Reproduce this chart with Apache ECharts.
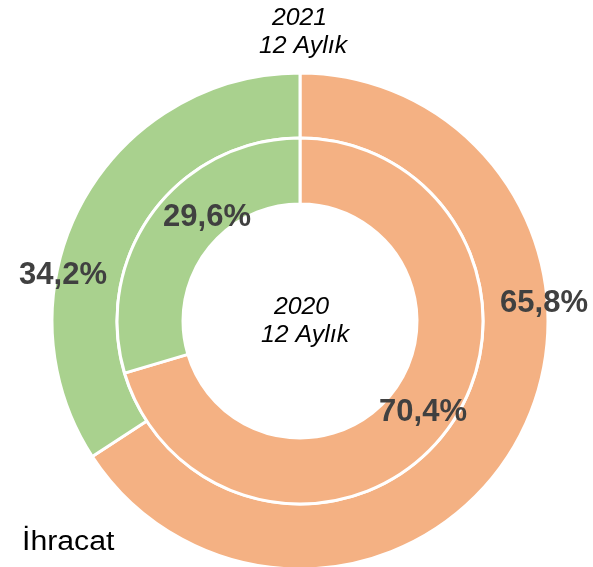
<!DOCTYPE html>
<html>
<head>
<meta charset="utf-8">
<script src="https://cdn.jsdelivr.net/npm/echarts@6/dist/echarts.min.js"></script>
<style>
  html, body { margin: 0; padding: 0; background: #fff; }
  #main { width: 593px; height: 567px; }
</style>
</head>
<body>
<div id="main"></div>
<script>
  // dilimler: turuncu, yesil
  var categories = ['Turuncu', 'Yeşil'];
  var values2021 = [65.8, 34.2];
  var values2020 = [70.4, 29.6];
  var colors = ['#F4B183', '#A9D18E'];

  var fmt = function (v) { return v.toFixed(1).replace('.', ',') + '%'; };

  var chart = echarts.init(document.getElementById('main'));

  var pctStyle = { fill: '#404040', font: 'bold 31px "Liberation Sans", Arial, sans-serif', align: 'center', verticalAlign: 'middle' };
  var capStyle = { fill: '#000', font: 'italic 23px "Liberation Sans", Arial, sans-serif', align: 'center', verticalAlign: 'middle', lineHeight: 28 };

  function pctText(x, y, v) {
    return { type: 'text', x: x, y: y, z: 10, style: Object.assign({ text: fmt(v) }, pctStyle) };
  }

  chart.setOption({
    animation: false,
    color: colors,
    series: [
      {
        name: '2021 12 Aylık',
        type: 'pie',
        center: [300, 321],
        radius: [183, 248],
        startAngle: 90,
        clockwise: true,
        label: { show: false },
        labelLine: { show: false },
        itemStyle: { borderColor: '#fff', borderWidth: 3 },
        data: categories.map(function (c, i) { return { name: c, value: values2021[i] }; })
      },
      {
        name: '2020 12 Aylık',
        type: 'pie',
        center: [300, 321],
        radius: [117, 183],
        startAngle: 90,
        clockwise: true,
        label: { show: false },
        labelLine: { show: false },
        itemStyle: { borderColor: '#fff', borderWidth: 3 },
        data: categories.map(function (c, i) { return { name: c, value: values2020[i] }; })
      }
    ],
    graphic: [
      pctText(63, 275, values2021[1]),
      pctText(544, 303, values2021[0]),
      pctText(207, 217, values2020[1]),
      pctText(423, 412, values2020[0]),
      { type: 'text', x: 303, y: 33, scaleX: 1.08, z: 10,
        style: Object.assign({ text: '2021 \n12 Aylık' }, capStyle) },
      { type: 'text', x: 305, y: 322, scaleX: 1.08, z: 10,
        style: Object.assign({ text: '2020 \n12 Aylık' }, capStyle) },
      { type: 'text', x: 22, y: 543, scaleX: 1.12, z: 10,
        style: { text: 'İhracat', fill: '#000', font: '27px "Liberation Sans", Arial, sans-serif', align: 'left', verticalAlign: 'middle' } }
    ]
  });
</script>
</body>
</html>
